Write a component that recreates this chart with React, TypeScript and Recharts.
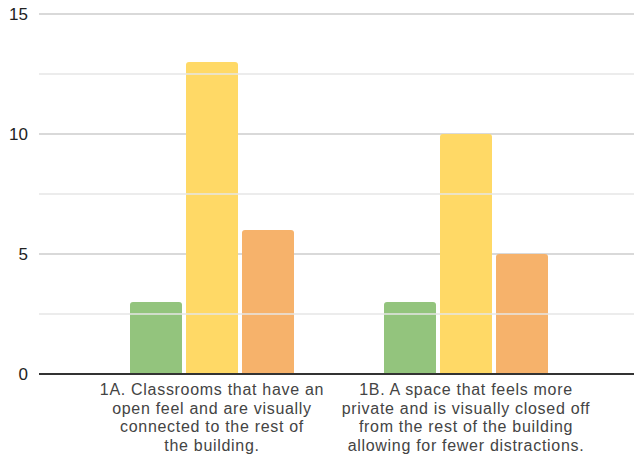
import React from "react";
import {
  BarChart,
  Bar,
  XAxis,
  YAxis,
  CartesianGrid,
  ReferenceLine,
} from "recharts";

const categories = ["1A", "1B"];
const categoryLines = [
  [
    "1A. Classrooms that have an",
    "open feel and are visually",
    "connected to the rest of",
    "the building.",
  ],
  [
    "1B. A space that feels more",
    "private and is visually closed off",
    "from the rest of the building",
    "allowing for fewer distractions.",
  ],
];
const greenValues = [3, 3];
const yellowValues = [13, 10];
const orangeValues = [6, 5];
const yTicks = [0, 5, 10, 15];
const minorTicks = [2.5, 7.5, 12.5];

const data = categories.map((c, i) => ({
  name: c,
  green: greenValues[i],
  yellow: yellowValues[i],
  orange: orangeValues[i],
}));

function CategoryTick(props: any) {
  const { x, y, payload } = props;
  const lines = categoryLines[payload.index] || [payload.value];
  return (
    <g>
      {lines.map((line, i) => (
        <text
          key={i}
          x={x}
          y={y + 21 + i * 18.7}
          textAnchor="middle"
          fill="#444"
          fontSize={16}
          letterSpacing={0.7}
          fontFamily="'Liberation Sans', Arial, sans-serif"
        >
          {line}
        </text>
      ))}
    </g>
  );
}

export default function App() {
  return (
    <div style={{ position: "absolute", left: 0, top: 0, background: "#fff" }}>
      <BarChart
        width={634}
        height={458}
        data={data}
        margin={{ top: 14, right: 0, left: 0, bottom: 0 }}
        barGap={4}
        barCategoryGap={45}
      >
        <CartesianGrid
          vertical={false}
          stroke="#cccccc"
          strokeWidth={1.5}
          horizontalValues={yTicks}
        />
        {minorTicks.map((v) => (
          <ReferenceLine key={v} y={v} stroke="#e6e6e6" strokeWidth={1.5} />
        ))}
        <XAxis
          dataKey="name"
          height={84}
          padding={{ left: 46, right: 41 }}
          axisLine={{ stroke: "#333", strokeWidth: 2 }}
          tickLine={false}
          tickSize={0}
          tickMargin={0}
          interval={0}
          tick={<CategoryTick />}
        />
        <YAxis
          width={39}
          domain={[0, 15]}
          ticks={yTicks}
          axisLine={false}
          tickLine={false}
          tickSize={0}
          tickMargin={11}
          tick={{ fill: "#222", fontSize: 17, fontFamily: "'Liberation Sans', Arial, sans-serif" }}
        />
        <Bar dataKey="green" fill="#93c47d" radius={[3, 3, 0, 0]} isAnimationActive={false} />
        <Bar dataKey="yellow" fill="#ffd966" radius={[3, 3, 0, 0]} isAnimationActive={false} />
        <Bar dataKey="orange" fill="#f6b26b" radius={[3, 3, 0, 0]} isAnimationActive={false} />
      </BarChart>
    </div>
  );
}
